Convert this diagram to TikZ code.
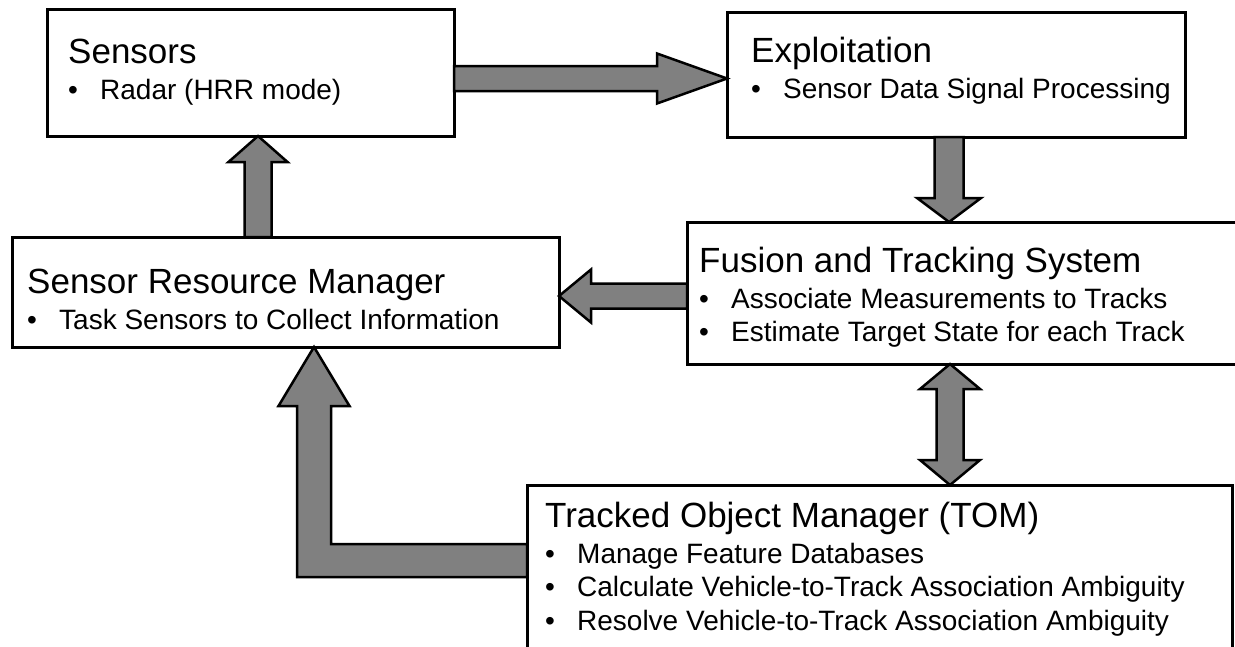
\documentclass[tikz,border=0pt]{standalone}
\usepackage{fontspec}
\setmainfont{Liberation Sans}
\usetikzlibrary{calc}
\tikzset{>=latex}
\tikzset{
  blockbox/.style={draw, line width=3pt, fill=white, inner sep=0pt, outer sep=0pt, anchor=north west},
  blocktext/.style={anchor=base west, inner sep=0pt, font=\fontsize{28}{33.6}\selectfont},
  fatarrow/.style={draw, line width=2.5pt, fill=gray, line join=miter}
}
\newcommand{\bul}{\makebox[32pt][l]{\textbullet}}
\newcommand{\boxtitle}[1]{{\fontsize{35}{42}\selectfont #1}\\[2.4pt]}

\begin{document}
\begin{tikzpicture}[x=1pt,y=-1pt]
    \useasboundingbox (0,0) rectangle (1235,646);
    \clip (0,0) rectangle (1235,646);

    \node[blockbox, minimum width=407pt, minimum height=127pt] (sensors) at (47,9) {};
    \node[blockbox, minimum width=458pt, minimum height=125pt] (exploit) at (727,12) {};
    \node[blockbox, minimum width=547pt, minimum height=110pt] (srm) at (12,237) {};
    \node[blockbox, minimum width=563pt, minimum height=142pt] (fusion) at (687,222) {};
    \node[blockbox, minimum width=705pt, minimum height=185pt] (tom) at (527,485) {};

    \node[blocktext] (sensorstext) at ($(sensors.north west)+(21,54)$)
    {\begin{tabular}[t]{@{}l@{}}\boxtitle{Sensors}\bul Radar (HRR mode)\end{tabular}};
    \node[blocktext] (exploittext) at ($(exploit.north west)+(24,50)$)
    {\begin{tabular}[t]{@{}l@{}}\boxtitle{Exploitation}\bul Sensor Data Signal Processing\end{tabular}};
    \node[blocktext] (srmtext) at ($(srm.north west)+(15,56)$)
    {\begin{tabular}[t]{@{}l@{}}\boxtitle{Sensor Resource Manager}\bul Task Sensors to Collect Information\end{tabular}};
    \node[blocktext] (fusiontext) at ($(fusion.north west)+(12,50)$)
    {\begin{tabular}[t]{@{}l@{}}\boxtitle{Fusion and Tracking System}\bul Associate Measurements to Tracks\\
    \bul Estimate Target State for each Track\end{tabular}};
    \node[blocktext] (tomtext) at ($(tom.north west)+(18,42)$)
    {\begin{tabular}[t]{@{}l@{}}\boxtitle{Tracked Object Manager (TOM)}\bul Manage Feature Databases\\
    \bul Calculate Vehicle-to-Track Association Ambiguity\\
    \bul Resolve Vehicle-to-Track Association Ambiguity\end{tabular}};

    \coordinate (a1) at (sensors.east |- 0,78.5);
    \coordinate (b1) at (exploit.west |- 0,78.5);
    \draw[fatarrow] ($(a1)+(0,-12.5)$) -- ($(b1)+(-70,-12.5)$) -- ($(b1)+(-70,-25)$) -- (b1)
    -- ($(b1)+(-70,25)$) -- ($(b1)+(-70,12.5)$) -- ($(a1)+(0,12.5)$) -- cycle;

    \coordinate (a2) at (949,0 |- exploit.south);
    \coordinate (b2) at (949,0 |- fusion.north);
    \draw[fatarrow] ($(a2)+(-14.5,0)$) -- ($(b2)+(-14.5,-24)$) -- ($(b2)+(-32,-24)$) -- (b2)
    -- ($(b2)+(32,-24)$) -- ($(b2)+(14.5,-24)$) -- ($(a2)+(14.5,0)$) -- cycle;

    \coordinate (a3) at (fusion.west |- 0,296);
    \coordinate (b3) at (srm.east |- 0,296);
    \draw[fatarrow] ($(a3)+(0,-12.5)$) -- ($(b3)+(32,-12.5)$) -- ($(b3)+(32,-26.5)$) -- (b3)
    -- ($(b3)+(32,26.5)$) -- ($(b3)+(32,12.5)$) -- ($(a3)+(0,12.5)$) -- cycle;

    \coordinate (a4) at (258,0 |- srm.north);
    \coordinate (b4) at (258,0 |- sensors.south);
    \draw[fatarrow] ($(a4)+(-13.5,0)$) -- ($(b4)+(-13.5,26)$) -- ($(b4)+(-29.5,26)$) -- (b4)
    -- ($(b4)+(29.5,26)$) -- ($(b4)+(13.5,26)$) -- ($(a4)+(13.5,0)$) -- cycle;

    \coordinate (a5) at (950,0 |- fusion.south);
    \coordinate (b5) at (950,0 |- tom.north);
    \draw[fatarrow] (a5) -- ($(a5)+(30,25)$) -- ($(a5)+(13.5,25)$) -- ($(b5)+(13.5,-25)$)
    -- ($(b5)+(30,-25)$) -- (b5) -- ($(b5)+(-30,-25)$) -- ($(b5)+(-13.5,-25)$)
    -- ($(a5)+(-13.5,25)$) -- ($(a5)+(-30,25)$) -- cycle;

    \coordinate (a6) at (tom.west |- 0,560.5);
    \coordinate (c6) at (314,560.5);
    \coordinate (b6) at (314,0 |- srm.south);
    \draw[fatarrow] ($(a6)+(0,-16.5)$) -- ($(c6)+(17,-16.5)$) -- ($(b6)+(17,59)$) -- ($(b6)+(35.5,59)$)
    -- (b6) -- ($(b6)+(-35.5,59)$) -- ($(b6)+(-17,59)$) -- ($(c6)+(-17,16.5)$)
    -- ($(a6)+(0,16.5)$) -- cycle;
\end{tikzpicture}
\end{document}
